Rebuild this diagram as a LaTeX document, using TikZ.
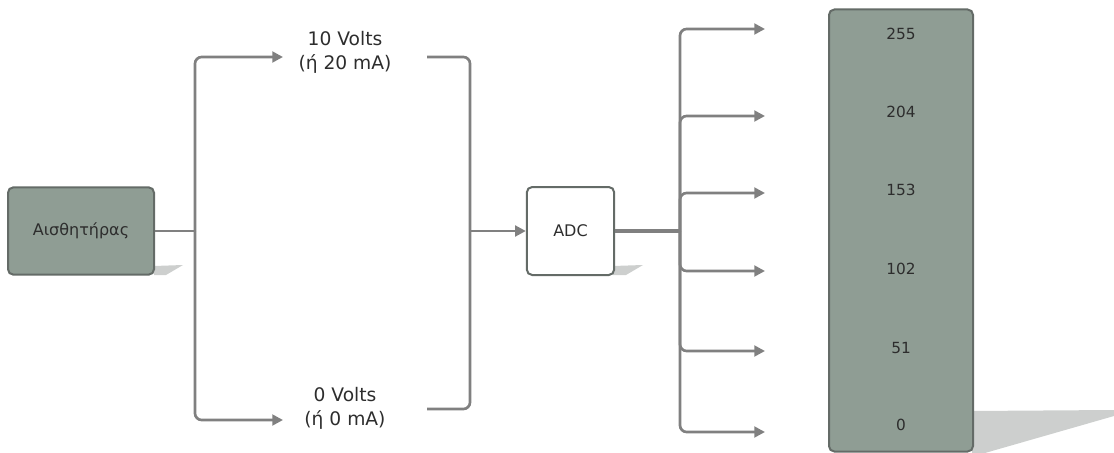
\documentclass[tikz,border=0pt]{standalone}
\usepackage{fontspec}
\setmainfont{DejaVu Sans}
\usetikzlibrary{arrows.meta, positioning}
\definecolor{boxgreen}{RGB}{143,157,148}
\definecolor{boxedge}{RGB}{100,107,103}
\definecolor{wire}{RGB}{128,128,128}
\definecolor{shadowgray}{RGB}{205,207,206}
\definecolor{inkgray}{RGB}{45,45,45}

\begin{document}
\begin{tikzpicture}[
  x=0.75pt, y=-0.75pt,
  >={Triangle[length=8pt, width=8pt]},
  every node/.style={text=inkgray},
  blk/.style={draw=boxedge, line width=1.5pt, rounded corners=4pt, inner sep=0pt},
  wr/.style={draw=wire, line width=2pt, rounded corners=5pt},
  ar/.style={wr, ->},
  volt/.style={align=center, font=\fontsize{14}{18}\selectfont},
  lvl/.style={font=\fontsize{11.5}{13}\selectfont}
]
\useasboundingbox (0,0) rectangle (1114,453);
\fill[shadowgray] (154,266) -- (183,265) -- (166,275) -- (154,275) -- cycle;
\fill[shadowgray] (613,266) -- (643,265) -- (626,275) -- (613,275) -- cycle;
\fill[shadowgray] (972,411) -- (1114,410) -- (1114,416) -- (985,453) -- (972,453) -- cycle;
\node[blk, fill=boxgreen, minimum width=109.5pt, minimum height=65.5pt,
      font=\fontsize{12}{14}\selectfont] (sensor) at (81,231) {Αισθητήρας};
\node[blk, fill=white, minimum width=65.5pt, minimum height=66pt,
      font=\fontsize{12}{14}\selectfont] (adc) at (570.5,231) {ADC};
\node[blk, fill=boxgreen, minimum width=108pt, minimum height=331.5pt] (bar) at (901,230.5) {};
\node[volt] (hi) at (345,52) {10 Volts\\(ή 20 mA)};
\node[volt] (lo) at (345,408) {0 Volts\\(ή 0 mA)};
\coordinate (fork) at (195,231);
\coordinate (hiin) at (283,57);
\coordinate (loin) at (283,420);
\coordinate (hiout) at (427,57);
\coordinate (loout) at (427,409);
\coordinate (merge) at (470,231);
\coordinate (split) at (680,231);
\draw[wr] (sensor.east) -- (fork);
\draw[ar] (fork) |- (hiin);
\draw[ar] (fork) |- (loin);
\draw[wr] (hiout) -| (merge) |- (loout);
\draw[ar] (merge) -- (adc.west);
\draw[wr, line width=3pt, rounded corners=0pt] (adc.east) -- (split);
\foreach \v/\y/\b in {255/34/29, 204/112/116, 153/190/193, 102/269/271, 51/348/351, 0/425/432}{
  \node[lvl] (v\v) at (901,\y) {\v};
  \coordinate (b\v) at (765,\b);
  \draw[ar] (split) |- (b\v);
}
\end{tikzpicture}
\end{document}
